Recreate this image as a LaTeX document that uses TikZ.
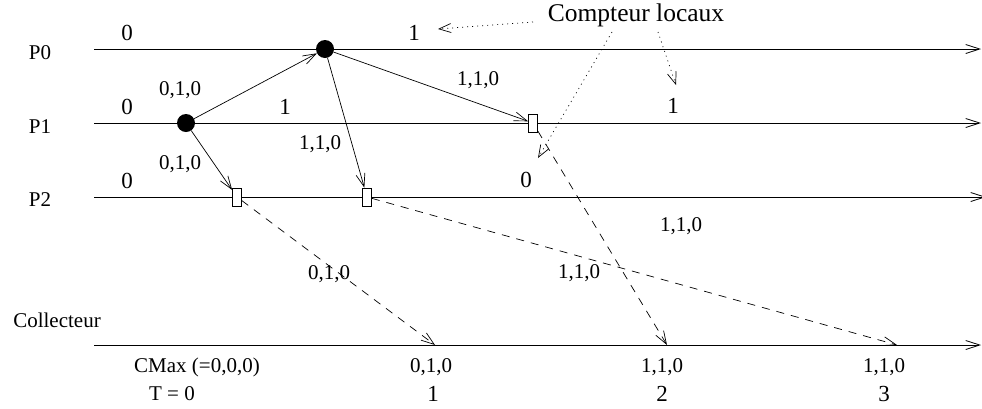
\documentclass[tikz,border=0pt]{standalone}
\usepackage{fontspec}
\setmainfont{Liberation Serif}
\usetikzlibrary{arrows.meta}
\tikzset{
  lbl/.style={inner sep=0pt, font=\fontsize{21}{21}\selectfont},
  cnt/.style={inner sep=0pt, font=\fontsize{23}{23}\selectfont},
  big/.style={inner sep=0pt, font=\fontsize{25.5}{25.5}\selectfont},
  timeline/.style={line width=0.8pt, -{Straight Barb[length=14pt,width=9pt]}},
  msg/.style={line width=0.7pt, -{Straight Barb[length=13pt,width=9pt]}},
  fwd/.style={msg, dash pattern=on 8pt off 7pt},
  note/.style={line width=0.7pt, dash pattern=on 1pt off 4pt, -{Straight Barb[length=12pt,width=9pt]}},
  event/.style={circle, fill=black, inner sep=0pt, minimum size=18pt},
  recv/.style={draw, fill=white, line width=0.7pt, inner sep=0pt, minimum width=9pt, minimum height=18pt},
}
\begin{document}
\begin{tikzpicture}[x=1pt,y=-1pt]
\useasboundingbox (0,0) rectangle (982,408);
% time lines
\coordinate (p0s) at (94,49);  \coordinate (p0e) at (981,49);
\coordinate (p1s) at (94,123); \coordinate (p1e) at (981,123);
\coordinate (p2s) at (94,197); \coordinate (p2e) at (986,197);
\coordinate (cs)  at (94,345); \coordinate (ce)  at (981,345);
\draw[timeline] (p0s) -- (p0e);
\draw[timeline] (p1s) -- (p1e);
\draw[timeline] (p2s) -- (p2e);
\draw[timeline] (cs) -- (ce);
% process labels
\node[lbl] (lp0) at (40,53) {P0};
\node[lbl] (lp1) at (40,127) {P1};
\node[lbl] (lp2) at (40,200) {P2};
\node[lbl] (lcol) at (57,320) {Collecteur};
% local counters
\node[cnt] (c00) at (127,33) {0};
\node[cnt] (c01) at (414,33) {1};
\node[cnt] (c10) at (127,107) {0};
\node[cnt] (c11) at (285,107) {1};
\node[cnt] (c12) at (673,106) {1};
\node[cnt] (c20) at (127,181) {0};
\node[cnt] (c21) at (526,180) {0};
% events
\node[event] (e1) at (186,123) {};
\node[event] (e0) at (325,49) {};
\node[recv] (r1) at (237,197) {};
\node[recv] (r2) at (367,197) {};
\node[recv] (r3) at (533,123) {};
% messages
\draw[msg] (e1) -- (e0);
\draw[msg] (e1) -- (r1);
\draw[msg] (e0) -- (r2);
\draw[msg] (e0) -- (r3);
\node[lbl] (m1) at (180,90) {0,1,0};
\node[lbl] (m2) at (180,164) {0,1,0};
\node[lbl] (m3) at (320,144) {1,1,0};
\node[lbl] (m4) at (478,80) {1,1,0};
% forwards to collector
\coordinate (t1) at (435,345);
\coordinate (t2) at (667,345);
\coordinate (t3) at (897,345);
\draw[fwd] (r1) -- (t1);
\draw[fwd] (r3) -- (t2);
\draw[fwd] (r2) -- (t3);
\node[lbl] (f1) at (329,274) {0,1,0};
\node[lbl] (f2) at (579,273) {1,1,0};
\node[lbl] (f3) at (681,226) {1,1,0};
% collector values
\node[lbl] (v0) at (197,367) {CMax (=0,0,0)};
\node[lbl] (v1) at (431,367) {0,1,0};
\node[lbl] (v2) at (662,367) {1,1,0};
\node[lbl] (v3) at (884,367) {1,1,0};
\node[lbl] (s0) at (172,394) {T = 0};
\node[cnt] (s1) at (433,394) {1};
\node[cnt] (s2) at (662,394) {2};
\node[cnt] (s3) at (884,394) {3};
% annotation
\node[big] (cl) at (636,15) {Compteur locaux};
\coordinate (n1s) at (533,22);  \coordinate (n1e) at (438,29);
\coordinate (n2s) at (612,32);  \coordinate (n2e) at (538,158);
\coordinate (n3s) at (658,32);  \coordinate (n3e) at (676,85);
\draw[note] (n1s) -- (n1e);
\draw[note] (n2s) -- (n2e);
\draw[note] (n3s) -- (n3e);
\end{tikzpicture}
\end{document}
